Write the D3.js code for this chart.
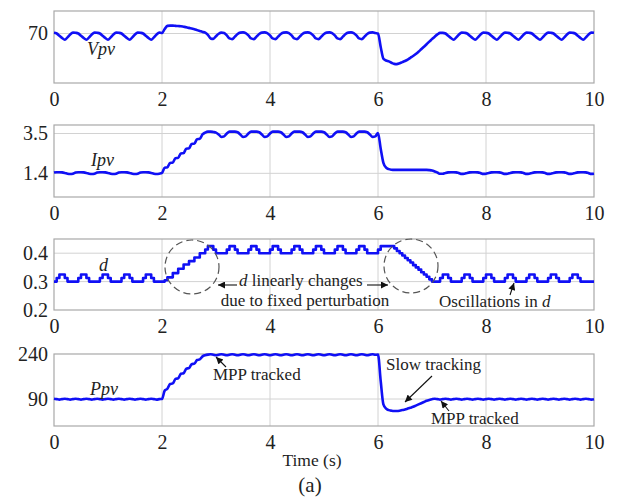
<!DOCTYPE html>
<html><head><meta charset="utf-8">
<script src="https://cdn.jsdelivr.net/npm/d3@7"></script>
<style>
html,body{margin:0;padding:0;background:#fff;}
svg{display:block;font-family:"Liberation Serif","Times New Roman",serif;}
</style></head><body>
<svg id="chart" width="617" height="498"></svg>
<script>
// ---- data (sampled every 0.05 s from 0 to 10 s) ----
const dt = 0.05;
const xTicks = [0, 2, 4, 6, 8, 10];

const vpv = [
  70.3,70.0,69.0,68.0,67.2,68.3,69.6,70.4,
  70.3,70.0,69.0,68.0,67.2,68.3,69.6,70.4,
  70.3,70.0,69.0,68.0,67.2,68.3,69.6,70.4,
  70.3,70.0,69.0,68.0,67.2,68.3,69.6,70.4,
  70.3,70.0,69.0,68.0,67.2,68.3,69.6,70.4,
  70.2,72.0,73.4,73.5,73.5,73.4,73.3,73.2,
  73.0,72.8,72.5,72.2,71.9,71.5,71.1,70.7,
  70.4,69.4,67.8,67.6,68.8,69.9,70.4,70.2,
  69.2,67.8,67.5,68.6,69.8,70.4,70.5,70.2,
  69.2,67.8,67.5,68.6,69.8,70.4,70.5,70.2,
  69.2,67.8,67.5,68.6,69.8,70.4,70.5,70.2,
  69.2,67.8,67.5,68.6,69.8,70.4,70.5,70.2,
  69.2,67.8,67.5,68.6,69.8,70.4,70.5,70.2,
  69.2,67.8,67.5,68.6,69.8,70.4,70.5,70.2,
  69.2,67.8,67.5,68.6,69.8,70.4,70.5,70.2,
  70.0,64.0,58.8,58.0,57.6,57.0,56.5,56.4,
  56.8,57.3,57.8,58.4,59.2,60.0,60.9,61.9,
  63.0,64.1,65.2,66.4,67.5,68.6,69.6,70.3,
  70.3,70.0,69.0,68.0,67.2,68.3,69.6,70.4,
  70.3,70.0,69.0,68.0,67.2,68.3,69.6,70.4,
  70.3,70.0,69.0,68.0,67.2,68.3,69.6,70.4,
  70.3,70.0,69.0,68.0,67.2,68.3,69.6,70.4,
  70.3,70.0,69.0,68.0,67.2,68.3,69.6,70.4,
  70.3,70.0,69.0,68.0,67.2,68.3,69.6,70.4,
  70.3,70.0,69.0,68.0,67.2,68.3,69.6,70.4,
  70.3
];

const ipv = [
  1.44,1.46,1.46,1.45,1.42,1.38,1.36,1.38,
  1.44,1.46,1.46,1.45,1.42,1.38,1.36,1.38,
  1.44,1.46,1.46,1.45,1.42,1.38,1.36,1.38,
  1.44,1.46,1.46,1.45,1.42,1.38,1.36,1.38,
  1.44,1.46,1.46,1.45,1.42,1.38,1.36,1.38,
  1.42,1.70,1.72,1.95,1.97,2.20,2.22,2.45,
  2.47,2.70,2.72,2.95,2.97,3.20,3.22,3.45,
  3.55,3.60,3.60,3.58,3.55,3.45,3.32,3.35,
  3.50,3.60,3.60,3.60,3.57,3.45,3.32,3.35,
  3.50,3.60,3.60,3.60,3.57,3.45,3.32,3.35,
  3.50,3.60,3.60,3.60,3.57,3.45,3.32,3.35,
  3.50,3.60,3.60,3.60,3.57,3.45,3.32,3.35,
  3.50,3.60,3.60,3.60,3.57,3.45,3.32,3.35,
  3.50,3.60,3.60,3.60,3.57,3.45,3.32,3.35,
  3.50,3.60,3.60,3.60,3.57,3.45,3.32,3.35,
  3.52,2.70,1.95,1.70,1.62,1.59,1.58,1.58,
  1.58,1.58,1.58,1.58,1.58,1.58,1.58,1.58,
  1.58,1.58,1.58,1.57,1.55,1.50,1.44,1.38,
  1.38,1.42,1.45,1.46,1.46,1.45,1.41,1.37,
  1.38,1.42,1.45,1.46,1.46,1.45,1.41,1.37,
  1.38,1.42,1.45,1.46,1.46,1.45,1.41,1.37,
  1.38,1.42,1.45,1.46,1.46,1.45,1.41,1.37,
  1.38,1.42,1.45,1.46,1.46,1.45,1.41,1.37,
  1.38,1.42,1.45,1.46,1.46,1.45,1.41,1.37,
  1.38,1.42,1.45,1.46,1.46,1.45,1.41,1.37,
  1.38
];

const duty = [
  0.300,0.3125,0.325,0.325,0.3125,0.300,0.300,0.300,
  0.300,0.3125,0.325,0.325,0.3125,0.300,0.300,0.300,
  0.300,0.3125,0.325,0.325,0.3125,0.300,0.300,0.300,
  0.300,0.3125,0.325,0.325,0.3125,0.300,0.300,0.300,
  0.300,0.3125,0.325,0.325,0.3125,0.300,0.300,0.300,
  0.300,0.305,0.315,0.315,0.330,0.330,0.345,0.345,
  0.360,0.360,0.372,0.372,0.385,0.385,0.400,0.400,
  0.413,0.425,0.425,0.4125,0.400,0.400,0.400,0.400,
  0.4125,0.425,0.425,0.4125,0.400,0.400,0.400,0.400,
  0.4125,0.425,0.425,0.4125,0.400,0.400,0.400,0.400,
  0.4125,0.425,0.425,0.4125,0.400,0.400,0.400,0.400,
  0.4125,0.425,0.425,0.4125,0.400,0.400,0.400,0.400,
  0.4125,0.425,0.425,0.4125,0.400,0.400,0.400,0.400,
  0.4125,0.425,0.425,0.4125,0.400,0.400,0.400,0.400,
  0.4125,0.425,0.425,0.4125,0.400,0.400,0.400,0.400,
  0.4125,0.425,0.425,0.425,0.425,0.425,0.417,0.408,
  0.400,0.392,0.383,0.375,0.367,0.358,0.350,0.342,
  0.333,0.325,0.317,0.308,0.300,0.300,0.300,0.3125,
  0.325,0.325,0.3125,0.300,0.300,0.300,0.300,0.3125,
  0.325,0.325,0.3125,0.300,0.300,0.300,0.300,0.3125,
  0.325,0.325,0.3125,0.300,0.300,0.300,0.300,0.3125,
  0.325,0.325,0.3125,0.300,0.300,0.300,0.300,0.3125,
  0.325,0.325,0.3125,0.300,0.300,0.300,0.300,0.3125,
  0.325,0.325,0.3125,0.300,0.300,0.300,0.300,0.3125,
  0.325,0.325,0.3125,0.300,0.300,0.300,0.300,0.300,
  0.300
];

const ppv = [
  91,89.5,88,89.5,91,89.5,88,89.5,
  91,89.5,88,89.5,91,89.5,88,89.5,
  91,89.5,88,89.5,91,89.5,88,89.5,
  91,89.5,88,89.5,91,89.5,88,89.5,
  91,89.5,88,89.5,91,89.5,88,89.5,
  90,118,124,140,142,157,159,174,
  176,191,193,206,208,220,222,232,
  236,238,239,237.5,236,237.5,239,237.5,
  236,237.5,239,237.5,236,237.5,239,237.5,
  236,237.5,239,237.5,236,237.5,239,237.5,
  236,237.5,239,237.5,236,237.5,239,237.5,
  236,237.5,239,237.5,236,237.5,239,237.5,
  236,237.5,239,237.5,236,237.5,239,237.5,
  236,237.5,239,237.5,236,237.5,239,237.5,
  236,237.5,239,237.5,236,237.5,239,237.5,
  238,150,72,58,53,51,50,50,
  51,53,55,58,61,64,68,72,
  76,80,84,87,89.5,91,89.5,88,
  89.5,91,89.5,88,89.5,91,89.5,88,
  89.5,91,89.5,88,89.5,91,89.5,88,
  89.5,91,89.5,88,89.5,91,89.5,88,
  89.5,91,89.5,88,89.5,91,89.5,88,
  89.5,91,89.5,88,89.5,91,89.5,88,
  89.5,91,89.5,88,89.5,91,89.5,88,
  89.5,91,89.5,88,89.5,91,89.5,88,
  89.5
];

const vTicks = [70];
const iTicks = [1.4, 3.5];
const dTicks = [0.2, 0.3, 0.4];
const pTicks = [90, 240];

// ---- layout ----
const svg = d3.select("#chart");
const X0 = 54, X1 = 594;
const x = d3.scaleLinear().domain([0, 10]).range([X0, X1]);

const panels = [
  {data: vpv,  domain: [48, 80],     ticks: vTicks, fmt: d3.format("d"),   top: 11,  h: 72, curve: d3.curveMonotoneX},
  {data: ipv,  domain: [0.15, 3.95], ticks: iTicks, fmt: d3.format(".1f"), top: 125, h: 72, curve: d3.curveMonotoneX},
  {data: duty, domain: [0.2, 0.45],  ticks: dTicks, fmt: d3.format(".1f"), top: 239, h: 71, curve: d3.curveStepAfter},
  {data: ppv,  domain: [0, 240],     ticks: pTicks, fmt: d3.format("d"),   top: 354, h: 72, curve: d3.curveMonotoneX}
];

const defs = svg.append("defs");
defs.append("marker").attr("id", "ah").attr("viewBox", "0 0 10 10")
  .attr("refX", 10).attr("refY", 5).attr("markerWidth", 9).attr("markerHeight", 7)
  .attr("markerUnits", "userSpaceOnUse").attr("orient", "auto")
  .append("path").attr("d", "M0,0 L10,5 L0,10 Z").attr("fill", "#111");

panels.forEach(p => {
  const y = d3.scaleLinear().domain(p.domain).range([p.top + p.h, p.top]);
  p.y = y;
  const g = svg.append("g");
  // grid
  g.selectAll(".vg").data(xTicks.slice(1, -1)).join("line")
    .attr("x1", d => x(d)).attr("x2", d => x(d))
    .attr("y1", p.top).attr("y2", p.top + p.h)
    .attr("stroke", "#d2d2d2").attr("stroke-width", 1);
  g.selectAll(".hg").data(p.ticks.filter(t => t > p.domain[0] && t < p.domain[1])).join("line")
    .attr("x1", X0).attr("x2", X1)
    .attr("y1", d => y(d)).attr("y2", d => y(d))
    .attr("stroke", "#d2d2d2").attr("stroke-width", 1);
  // box
  g.append("rect").attr("x", X0).attr("y", p.top).attr("width", X1 - X0).attr("height", p.h)
    .attr("fill", "none").attr("stroke", "#a8a8a8").attr("stroke-width", 1.2);
  // axes labels
  const ax = g.append("g").attr("transform", `translate(0,${p.top + p.h})`)
    .call(d3.axisBottom(x).tickValues(xTicks).tickSize(0).tickPadding(9).tickFormat(d3.format("d")));
  const ay = g.append("g").attr("transform", `translate(${X0},0)`)
    .call(d3.axisLeft(y).tickValues(p.ticks).tickSize(0).tickPadding(6).tickFormat(p.fmt));
  [ax, ay].forEach(a => {
    a.select(".domain").remove();
    a.selectAll("text").attr("font-family", '"Liberation Serif","Times New Roman",serif')
      .attr("font-size", 20).attr("fill", "#222");
  });
  // series
  const line = d3.line().x((d, i) => x(i * dt)).y(d => y(d)).curve(p.curve);
  g.append("path").datum(p.data).attr("d", line)
    .attr("fill", "none").attr("stroke", "#1010f5").attr("stroke-width", 2.6)
    .attr("stroke-linejoin", "round");
});

// ---- annotations ----
function txt(x0, y0, parts, size, anchor) {
  const t = svg.append("text").attr("x", x0).attr("y", y0)
    .attr("font-size", size).attr("fill", "#222").attr("text-anchor", anchor || "start");
  parts.forEach(pt => {
    t.append("tspan").text(pt[0]).attr("font-style", pt[1] ? "italic" : "normal");
  });
  return t;
}
function arrow(x1, y1, x2, y2) {
  svg.append("line").attr("x1", x1).attr("y1", y1).attr("x2", x2).attr("y2", y2)
    .attr("stroke", "#111").attr("stroke-width", 1.1).attr("marker-end", "url(#ah)");
}

// series names
txt(87, 55, [["Vpv", true]], 18);
txt(91, 166, [["Ipv", true]], 18);
txt(99, 271, [["d", true]], 18);
txt(90, 395, [["Ppv", true]], 18);

// panel 3
svg.append("ellipse").attr("cx", 192).attr("cy", 267).attr("rx", 27).attr("ry", 27)
  .attr("fill", "none").attr("stroke", "#555").attr("stroke-width", 1.2).attr("stroke-dasharray", "7,4");
svg.append("ellipse").attr("cx", 411).attr("cy", 266).attr("rx", 27).attr("ry", 27)
  .attr("fill", "none").attr("stroke", "#555").attr("stroke-width", 1.2).attr("stroke-dasharray", "7,4");
arrow(237, 285, 218, 285);
txt(239, 286, [["d", true], [" linearly changes", false]], 17);
arrow(367, 285, 388, 285);
txt(305, 306, [["due to fixed perturbation", false]], 17, "middle");
txt(439, 307, [["Oscillations in ", false], ["d", true]], 17);
arrow(510, 295, 514, 283);

// panel 4
txt(213, 380, [["MPP tracked", false]], 17);
arrow(226, 367, 216, 357);
txt(386, 370, [["Slow tracking", false]], 17);
arrow(432, 376, 405, 402);
txt(431, 424, [["MPP tracked", false]], 17);
arrow(449, 411, 441, 401);

// axis title and caption
txt(312, 466, [["Time (s)", false]], 17.5, "middle");
txt(310, 492, [["(a)", false]], 21, "middle");
</script>
</body></html>
